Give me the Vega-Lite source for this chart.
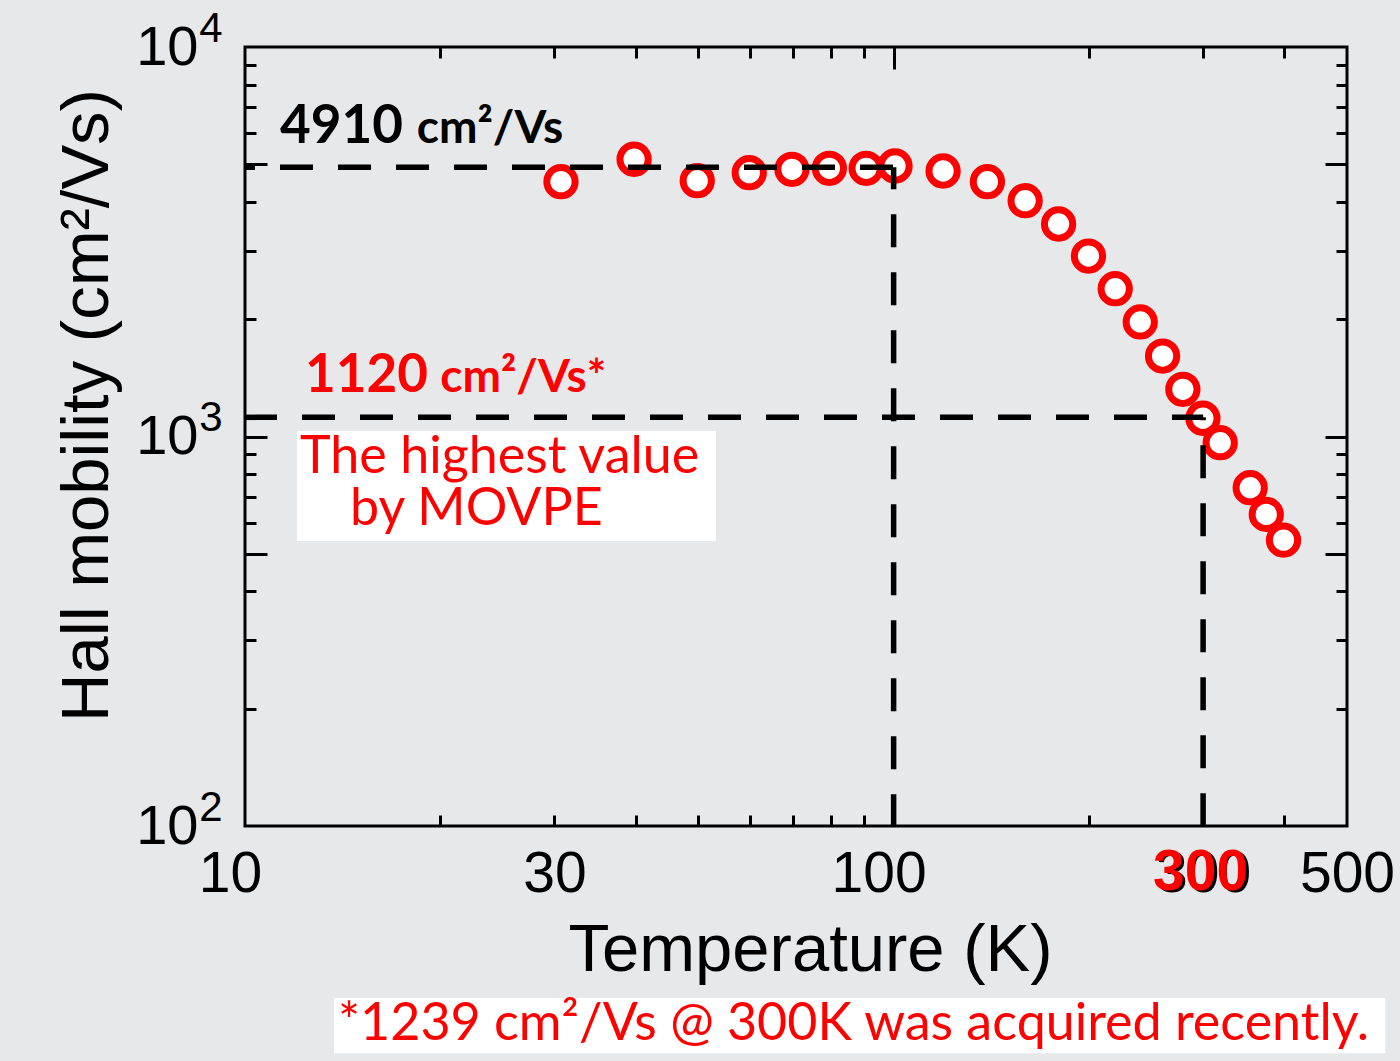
{
  "$schema": "https://vega.github.io/schema/vega-lite/v6.json",
  "width": 1102,
  "height": 779,
  "autosize": {"type": "none"},
  "padding": {"left": 245, "top": 47, "right": 53, "bottom": 235},
  "background": "#e7e8ea",
  "config": {
    "view": {"stroke": "#000000", "strokeWidth": 3},
    "axis": {
      "grid": false,
      "domain": false,
      "labelFlush": false,
      "labelOverlap": false,
      "tickColor": "#000000",
      "tickWidth": 3,
      "labelColor": "#000000",
      "titleColor": "#000000",
      "labelFont": "Liberation Sans",
      "titleFont": "Liberation Sans",
      "titleFontWeight": "normal"
    }
  },
  "datasets": {
    "mobility": [
      {"T": 30.7, "mu": 4510}, {"T": 39.8, "mu": 5150}, {"T": 49.8, "mu": 4536},
      {"T": 59.9, "mu": 4757}, {"T": 69.7, "mu": 4853}, {"T": 79.6, "mu": 4882},
      {"T": 90.7, "mu": 4882}, {"T": 100.5, "mu": 4949}, {"T": 119.2, "mu": 4804},
      {"T": 139.5, "mu": 4510}, {"T": 159.5, "mu": 4031}, {"T": 179.6, "mu": 3512},
      {"T": 199.7, "mu": 2906}, {"T": 219.6, "mu": 2396}, {"T": 240, "mu": 1968},
      {"T": 259.8, "mu": 1609}, {"T": 279.2, "mu": 1322}, {"T": 299.8, "mu": 1114},
      {"T": 318.8, "mu": 964}, {"T": 354.6, "mu": 739}, {"T": 375.4, "mu": 631},
      {"T": 399.1, "mu": 542}
    ],
    "boxes": [
      {"xa": 12.03, "xb": 53.2, "ya": 1033, "yb": 539},
      {"xa": 13.72, "xb": 572.9, "ya": 36.2, "yb": 26.1}
    ]
  },
  "resolve": {"axis": {"x": "independent", "y": "independent"}},
  "layer": [
    {
      "data": {"name": "boxes"},
      "mark": {"type": "rect", "fill": "#ffffff", "clip": false},
      "encoding": {
        "x": {"field": "xa", "type": "quantitative",
          "scale": {"type": "log", "domain": [10, 500], "nice": false},
          "axis": {"orient": "bottom", "values": [30, 300, 500], "format": "d", "ticks": false,
            "labelFontSize": 57, "labelPadding": 20, "title": "Temperature (K)", "titleFontSize": 67,
            "titlePadding": 15, "titleX": 565}},
        "x2": {"field": "xb"},
        "y": {"field": "ya", "type": "quantitative",
          "scale": {"type": "log", "domain": [100, 10000], "nice": false},
          "axis": {"orient": "left", "values": [100, 1000, 10000], "labelExpr": "'10'", "ticks": false,
            "labelFontSize": 56, "labelPadding": 47, "labelBaseline": "middle",
            "title": "Hall mobility (cm²/Vs)", "titleFontSize": 67, "titlePadding": 14, "titleY": 358}},
        "y2": {"field": "yb"}
      }
    },
    {
      "data": {"name": "mobility"},
      "mark": {"type": "point", "shape": "circle", "filled": true, "fill": "#ffffff", "fillOpacity": 1,
        "stroke": "#ff0000", "strokeWidth": 7, "size": 800, "opacity": 1},
      "encoding": {
        "x": {"field": "T", "type": "quantitative",
          "scale": {"type": "log", "domain": [10, 500], "nice": false},
          "axis": {"orient": "bottom", "values": [20, 30, 40, 50, 60, 70, 80, 90, 200, 300, 400],
            "labels": false, "tickSize": -11, "title": null}},
        "y": {"field": "mu", "type": "quantitative",
          "scale": {"type": "log", "domain": [100, 10000], "nice": false},
          "axis": {"orient": "left", "values": [200, 300, 400, 600, 700, 800, 900, 2000, 3000, 4000, 6000, 7000, 8000, 9000],
            "labels": false, "tickSize": -11, "title": null}}
      }
    },
    {
      "data": {"values": [{"x": 10, "x2": 100, "y": 4910}]},
      "mark": {"type": "rule", "stroke": "#000000", "strokeWidth": 5.5, "strokeDash": [33, 25], "strokeDashOffset": 23},
      "encoding": {
        "x": {"field": "x", "type": "quantitative",
          "scale": {"type": "log", "domain": [10, 500], "nice": false},
          "axis": {"orient": "bottom", "values": [100], "labels": false, "tickSize": -22, "title": null}},
        "x2": {"field": "x2"},
        "y": {"field": "y", "type": "quantitative",
          "scale": {"type": "log", "domain": [100, 10000], "nice": false},
          "axis": {"orient": "left", "values": [500, 1000, 5000], "labels": false, "tickSize": -22, "title": null}}
      }
    },
    {
      "data": {"values": [{"x": 100, "y": 4910, "y2": 100}]},
      "mark": {"type": "rule", "stroke": "#000000", "strokeWidth": 5.5, "strokeDash": [33, 25], "strokeDashOffset": 11},
      "encoding": {
        "x": {"field": "x", "type": "quantitative",
          "scale": {"type": "log", "domain": [10, 500], "nice": false},
          "axis": {"orient": "top", "values": [20, 30, 40, 50, 60, 70, 80, 90, 200, 300, 400],
            "labels": false, "tickSize": -11, "title": null}},
        "y": {"field": "y", "type": "quantitative",
          "scale": {"type": "log", "domain": [100, 10000], "nice": false},
          "axis": {"orient": "right", "values": [200, 300, 400, 600, 700, 800, 900, 2000, 3000, 4000, 6000, 7000, 8000, 9000],
            "labels": false, "tickSize": -11, "title": null}},
        "y2": {"field": "y2"}
      }
    },
    {
      "data": {"values": [{"x": 10, "x2": 300, "y": 1120}]},
      "mark": {"type": "rule", "stroke": "#000000", "strokeWidth": 5.5, "strokeDash": [33, 25], "strokeDashOffset": 1},
      "encoding": {
        "x": {"field": "x", "type": "quantitative",
          "scale": {"type": "log", "domain": [10, 500], "nice": false},
          "axis": {"orient": "top", "values": [100], "labels": false, "tickSize": -22, "title": null}},
        "x2": {"field": "x2"},
        "y": {"field": "y", "type": "quantitative",
          "scale": {"type": "log", "domain": [100, 10000], "nice": false},
          "axis": {"orient": "right", "values": [500, 1000, 5000], "labels": false, "tickSize": -22, "title": null}}
      }
    },
    {
      "data": {"values": [{"x": 300, "y": 1120, "y2": 100}]},
      "mark": {"type": "rule", "stroke": "#000000", "strokeWidth": 5.5, "strokeDash": [33, 25], "strokeDashOffset": 30},
      "encoding": {
        "x": {"field": "x", "type": "quantitative",
          "scale": {"type": "log", "domain": [10, 500], "nice": false},
          "axis": {"orient": "bottom", "values": [300], "format": "d", "ticks": false, "zindex": 1,
            "labelFontSize": 57, "labelPadding": 18, "labelOffset": -3, "labelColor": "#ff0000",
            "labelFontWeight": "bold", "title": null}},
        "y": {"field": "y", "type": "quantitative",
          "scale": {"type": "log", "domain": [100, 10000], "nice": false},
          "axis": {"orient": "left", "values": [100, 1000, 10000],
            "labelExpr": "datum.value >= 10000 ? '4' : (datum.value >= 1000 ? '3' : '2')",
            "ticks": false, "labelFontSize": 42, "labelPadding": 23, "labelOffset": -19,
            "labelBaseline": "middle", "title": null}},
        "y2": {"field": "y2"}
      }
    },
    {
      "data": {"values": [{"x": 11.32, "y": 5670, "label": "4910"}]},
      "mark": {"type": "text", "font": "Lato", "fontWeight": "bold", "fontSize": 53, "color": "#000000",
        "align": "left", "baseline": "alphabetic"},
      "encoding": {
        "x": {"field": "x", "type": "quantitative", "scale": {"type": "log", "domain": [10, 500], "nice": false},
          "axis": {"orient": "bottom", "values": [10, 100], "format": "d", "ticks": false,
            "labelFontSize": 57, "labelPadding": 20, "labelOffset": -15, "title": null}},
        "y": {"field": "y", "type": "quantitative", "scale": {"type": "log", "domain": [100, 10000], "nice": false}, "axis": null},
        "text": {"field": "label"}
      }
    },
    {
      "data": {"values": [{"x": 18.4, "y": 5670, "label": "cm²/Vs"}]},
      "mark": {"type": "text", "font": "Lato", "fontWeight": "bold", "fontSize": 46, "color": "#000000",
        "align": "left", "baseline": "alphabetic"},
      "encoding": {
        "x": {"field": "x", "type": "quantitative", "scale": {"type": "log", "domain": [10, 500], "nice": false}, "axis": null},
        "y": {"field": "y", "type": "quantitative", "scale": {"type": "log", "domain": [100, 10000], "nice": false}, "axis": null},
        "text": {"field": "label"}
      }
    },
    {
      "data": {"values": [{"x": 12.37, "y": 1301, "label": "1120"}]},
      "mark": {"type": "text", "font": "Lato", "fontWeight": "bold", "fontSize": 53, "color": "#ff0000",
        "align": "left", "baseline": "alphabetic"},
      "encoding": {
        "x": {"field": "x", "type": "quantitative", "scale": {"type": "log", "domain": [10, 500], "nice": false}, "axis": null},
        "y": {"field": "y", "type": "quantitative", "scale": {"type": "log", "domain": [100, 10000], "nice": false}, "axis": null},
        "text": {"field": "label"}
      }
    },
    {
      "data": {"values": [{"x": 20.0, "y": 1301, "label": "cm²/Vs*"}]},
      "mark": {"type": "text", "font": "Lato", "fontWeight": "bold", "fontSize": 46, "color": "#ff0000",
        "align": "left", "baseline": "alphabetic"},
      "encoding": {
        "x": {"field": "x", "type": "quantitative", "scale": {"type": "log", "domain": [10, 500], "nice": false}, "axis": null},
        "y": {"field": "y", "type": "quantitative", "scale": {"type": "log", "domain": [100, 10000], "nice": false}, "axis": null},
        "text": {"field": "label"}
      }
    },
    {
      "data": {"values": [
        {"x": 12.16, "y": 806, "label": "The highest value"},
        {"x": 14.52, "y": 592.7, "label": "by MOVPE"},
        {"x": 13.91, "y": 28.2, "label": "*1239 cm²/Vs @ 300K was acquired recently."}
      ]},
      "mark": {"type": "text", "font": "Lato", "fontWeight": "normal", "fontSize": 52, "color": "#ff0000",
        "align": "left", "baseline": "alphabetic", "clip": false},
      "encoding": {
        "x": {"field": "x", "type": "quantitative", "scale": {"type": "log", "domain": [10, 500], "nice": false}, "axis": null},
        "y": {"field": "y", "type": "quantitative", "scale": {"type": "log", "domain": [100, 10000], "nice": false}, "axis": null},
        "text": {"field": "label"}
      }
    }
  ]
}
